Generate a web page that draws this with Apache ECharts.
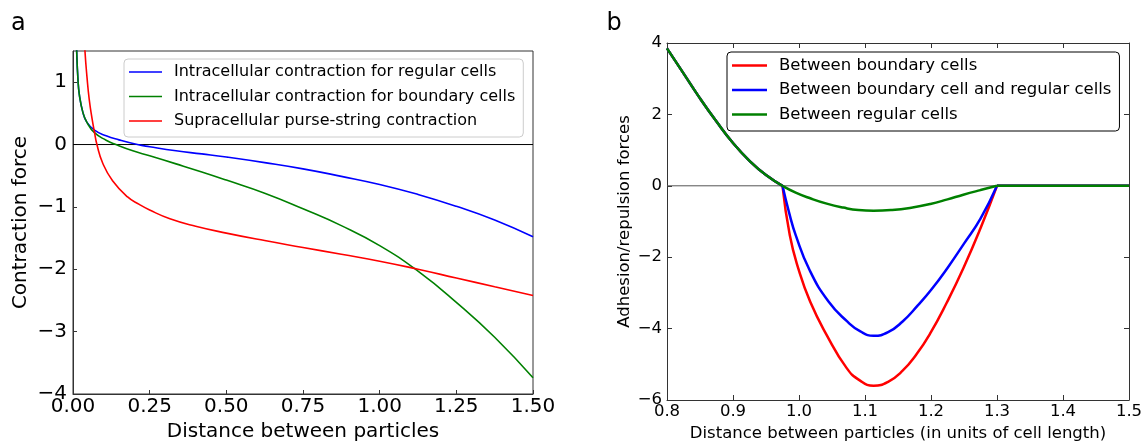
<!DOCTYPE html>
<html>
<head>
<meta charset="utf-8">
<script src="https://cdn.jsdelivr.net/npm/echarts@6/dist/echarts.min.js"></script>
<style>
  html, body { margin: 0; padding: 0; background: #fff; }
  #chart { width: 1142px; height: 443px; }
</style>
</head>
<body>
<div id="chart"></div>
<script>
// ---- Panel a: contraction force against particle distance ----
const namesA = [
  'Intracellular contraction for regular cells',
  'Intracellular contraction for boundary cells',
  'Supracellular purse-string contraction'
];
const distA_regular  = [0.008, 0.012, 0.016, 0.021, 0.032, 0.045, 0.07, 0.108, 0.15, 0.21, 0.25, 0.336, 0.42, 0.5, 0.625, 0.75, 0.875, 1.0, 1.125, 1.25, 1.375, 1.5];
const forceA_regular = [2.2, 1.5, 1.06, 0.79, 0.52, 0.36, 0.23, 0.14, 0.075, 0.0, -0.035, -0.10, -0.15, -0.20, -0.29, -0.39, -0.51, -0.64, -0.80, -0.99, -1.21, -1.48];
const distA_boundary  = [0.008, 0.012, 0.016, 0.021, 0.032, 0.045, 0.07, 0.108, 0.14, 0.195, 0.25, 0.336, 0.42, 0.5, 0.625, 0.75, 0.875, 1.0, 1.125, 1.25, 1.375, 1.5];
const forceA_boundary = [2.2, 1.5, 1.06, 0.79, 0.52, 0.36, 0.19, 0.07, 0.0, -0.10, -0.18, -0.31, -0.44, -0.57, -0.78, -1.03, -1.30, -1.62, -2.03, -2.53, -3.09, -3.74];
const distA_purse  = [0.034, 0.039, 0.046, 0.053, 0.062, 0.07, 0.078, 0.097, 0.129, 0.178, 0.216, 0.25, 0.316, 0.4, 0.5, 0.625, 0.75, 0.875, 1.0, 1.125, 1.25, 1.375, 1.5];
const forceA_purse = [2.0, 1.5, 1.06, 0.72, 0.42, 0.2, 0.0, -0.30, -0.58, -0.84, -0.96, -1.05, -1.19, -1.31, -1.42, -1.54, -1.65, -1.76, -1.87, -2.00, -2.14, -2.28, -2.42];
const ticksAX = [0, 0.25, 0.5, 0.75, 1.0, 1.25, 1.5];
const ticksAY = [-4, -3, -2, -1, 0, 1];
const topAY = 1.5;

// ---- Panel b: adhesion / repulsion forces against particle distance ----
const namesB = [
  'Between boundary cells',
  'Between boundary cell and regular cells',
  'Between regular cells'
];
// repulsive part, common to all three pair types
const distB_repulsion  = [0.8, 0.825, 0.85, 0.875, 0.9, 0.925, 0.95, 0.975];
const forceB_repulsion = [3.85, 3.15, 2.45, 1.8, 1.2, 0.7, 0.3, 0.0];
// adhesive well for each pair type
const distB_boundary  = [0.975, 0.986, 0.999, 1.017, 1.042, 1.072, 1.092, 1.113, 1.135, 1.157, 1.178, 1.199, 1.224, 1.249, 1.275, 1.3];
const forceB_boundary = [0.0, -1.38, -2.32, -3.25, -4.18, -5.1, -5.45, -5.6, -5.49, -5.18, -4.72, -4.13, -3.27, -2.31, -1.19, 0.0];
const distB_mixed  = [0.975, 0.985, 0.995, 1.016, 1.045, 1.073, 1.093, 1.113, 1.135, 1.157, 1.18, 1.2, 1.225, 1.25, 1.275, 1.3];
const forceB_mixed = [0.0, -0.75, -1.38, -2.36, -3.25, -3.8, -4.08, -4.2, -4.1, -3.8, -3.35, -2.92, -2.3, -1.62, -0.92, 0.0];
const distB_regular  = [0.975, 0.995, 1.017, 1.042, 1.067, 1.09, 1.113, 1.14, 1.168, 1.199, 1.225, 1.249, 1.275, 1.3];
const forceB_regular = [0.0, -0.19, -0.35, -0.50, -0.61, -0.68, -0.70, -0.68, -0.62, -0.51, -0.38, -0.25, -0.12, 0.0];
// beyond the cut-off distance there is no interaction
const distB_free  = [1.3, 1.5];
const forceB_free = [0.0, 0.0];
const ticksBX = [0.8, 0.9, 1.0, 1.1, 1.2, 1.3, 1.4, 1.5];
const ticksBY = [-6, -4, -2, 0, 2, 4];

const FONT = 'DejaVu Sans';
const colorsA = ['#0000ff', '#008000', '#ff0000'];
const colorsB = ['#ff0000', '#0000ff', '#008000'];

const pairs = (xs, ys) => xs.map((x, i) => [x, ys[i]]);
const minus = s => String(s).replace('-', '\u2212');

function curve(name, color, width, xi, yi, xs, ys) {
  return {
    name, type: 'line', xAxisIndex: xi, yAxisIndex: yi,
    data: pairs(xs, ys), symbol: 'none', smooth: 0.5,
    lineStyle: { color, width }, itemStyle: { color },
    emphasis: { disabled: true }, clip: true, z: 3
  };
}

function valueAxis(grid, ticks, extra) {
  return Object.assign({
    type: 'value', gridIndex: grid,
    min: ticks[0], max: ticks[ticks.length - 1], interval: ticks[1] - ticks[0],
    splitLine: { show: false },
    axisLine: { show: true, onZero: false, lineStyle: { color: '#333', width: 1 } },
    axisTick: { show: true, inside: true, length: 4, lineStyle: { color: '#333', width: 1 } }
  }, extra);
}

const seriesA = [
  {
    type: 'line', xAxisIndex: 0, yAxisIndex: 0, symbol: 'none', silent: true, z: 2,
    data: [[ticksAX[0], 0], [ticksAX[ticksAX.length - 1], 0]],
    lineStyle: { color: '#000', width: 1 }
  },
  curve(namesA[0], colorsA[0], 1.6, 0, 0, distA_regular, forceA_regular),
  curve(namesA[1], colorsA[1], 1.6, 0, 0, distA_boundary, forceA_boundary),
  curve(namesA[2], colorsA[2], 1.6, 0, 0, distA_purse, forceA_purse)
];

const wellsB = [
  [distB_boundary, forceB_boundary],
  [distB_mixed, forceB_mixed],
  [distB_regular, forceB_regular]
];
const seriesB = [
  {
    type: 'line', xAxisIndex: 1, yAxisIndex: 1, symbol: 'none', silent: true, z: 2,
    data: [[ticksBX[0], 0], [ticksBX[ticksBX.length - 1], 0]],
    lineStyle: { color: '#555', width: 1 }
  }
];
namesB.forEach((n, k) => {
  seriesB.push(curve(n, colorsB[k], 2.5, 1, 1, distB_repulsion, forceB_repulsion));
  seriesB.push(curve(n, colorsB[k], 2.5, 1, 1, wellsB[k][0], wellsB[k][1]));
  const tail = curve(n, colorsB[k], 2.5, 1, 1, distB_free, forceB_free);
  tail.smooth = false;
  seriesB.push(tail);
});

const option = {
  animation: false,
  backgroundColor: '#fff',
  textStyle: { fontFamily: FONT, color: '#000' },
  title: [
    { text: 'a', left: 11, top: 12, padding: 0, textStyle: { fontFamily: FONT, fontSize: 24, fontWeight: 'normal', color: '#000' } },
    { text: 'b', left: 606.5, top: 12, padding: 0, textStyle: { fontFamily: FONT, fontSize: 24, fontWeight: 'normal', color: '#000' } }
  ],
  grid: [
    { left: 73, top: 51, width: 460, height: 343, show: true, borderColor: '#333', borderWidth: 1,
      backgroundColor: 'transparent', containLabel: false, outerBoundsMode: 'none' },
    { left: 667, top: 43, width: 462, height: 357, show: false, containLabel: false, outerBoundsMode: 'none' }
  ],
  legend: [
    {
      data: namesA, orient: 'vertical', left: 124, top: 59, icon: 'rect',
      itemWidth: 33, itemHeight: 1.6, itemGap: 8.5, padding: [5, 8, 8, 5],
      backgroundColor: '#fff', borderColor: '#cccccc', borderWidth: 1, borderRadius: 4,
      textStyle: { fontFamily: FONT, fontSize: 16, lineHeight: 16, color: '#000', padding: [0, 0, 0, 7] },
      selectedMode: false
    },
    {
      data: namesB, orient: 'vertical', left: 727, top: 52, icon: 'rect',
      itemWidth: 35, itemHeight: 2.6, itemGap: 7.5, padding: [5, 8, 8, 5],
      backgroundColor: '#fff', borderColor: '#000', borderWidth: 1, borderRadius: 4,
      textStyle: { fontFamily: FONT, fontSize: 16.5, lineHeight: 16.5, color: '#000', padding: [0, 0, 0, 7] },
      selectedMode: false
    }
  ],
  xAxis: [
    valueAxis(0, ticksAX, {
      position: 'bottom',
      axisLabel: { formatter: v => v.toFixed(2), color: '#000', fontSize: 20, fontFamily: FONT, margin: 3 },
      name: 'Distance between particles', nameLocation: 'middle', nameGap: 28,
      nameTextStyle: { fontFamily: FONT, fontSize: 20, color: '#000' }
    }),
    valueAxis(1, ticksBX, {
      position: 'bottom',
      axisTick: { show: true, inside: true, length: 5, lineStyle: { color: '#333' } },
      axisLabel: { formatter: v => v.toFixed(1), color: '#000', fontSize: 16.5, fontFamily: FONT, margin: 3.5 },
      name: 'Distance between particles (in units of cell length)', nameLocation: 'middle', nameGap: 24.5,
      nameTextStyle: { fontFamily: FONT, fontSize: 16.5, color: '#000' }
    }),
    valueAxis(1, ticksBX, {
      position: 'top',
      axisTick: { show: true, inside: true, length: 5, lineStyle: { color: '#333' } },
      axisLabel: { show: false }
    })
  ],
  yAxis: [
    valueAxis(0, ticksAY, {
      max: topAY, position: 'left',
      axisLabel: { formatter: v => minus(v), color: '#000', fontSize: 20, fontFamily: FONT, margin: 6, showMaxLabel: false },
      name: 'Contraction force', nameLocation: 'middle', nameGap: 42, nameRotate: 90,
      nameTextStyle: { fontFamily: FONT, fontSize: 20, color: '#000' }
    }),
    valueAxis(1, ticksBY, {
      position: 'left',
      axisTick: { show: true, inside: true, length: 5, lineStyle: { color: '#333' } },
      axisLabel: { formatter: v => minus(v), color: '#000', fontSize: 16.5, fontFamily: FONT, margin: 5 },
      name: 'Adhesion/repulsion forces', nameLocation: 'middle', nameGap: 34, nameRotate: 90,
      nameTextStyle: { fontFamily: FONT, fontSize: 16.5, color: '#000' }
    }),
    valueAxis(1, ticksBY, {
      position: 'right',
      axisTick: { show: true, inside: true, length: 5, lineStyle: { color: '#333' } },
      axisLabel: { show: false }
    })
  ],
  series: seriesA.concat(seriesB)
};

const chart = echarts.init(document.getElementById('chart'), null, { renderer: 'canvas' });
chart.setOption(option);
</script>
</body>
</html>
